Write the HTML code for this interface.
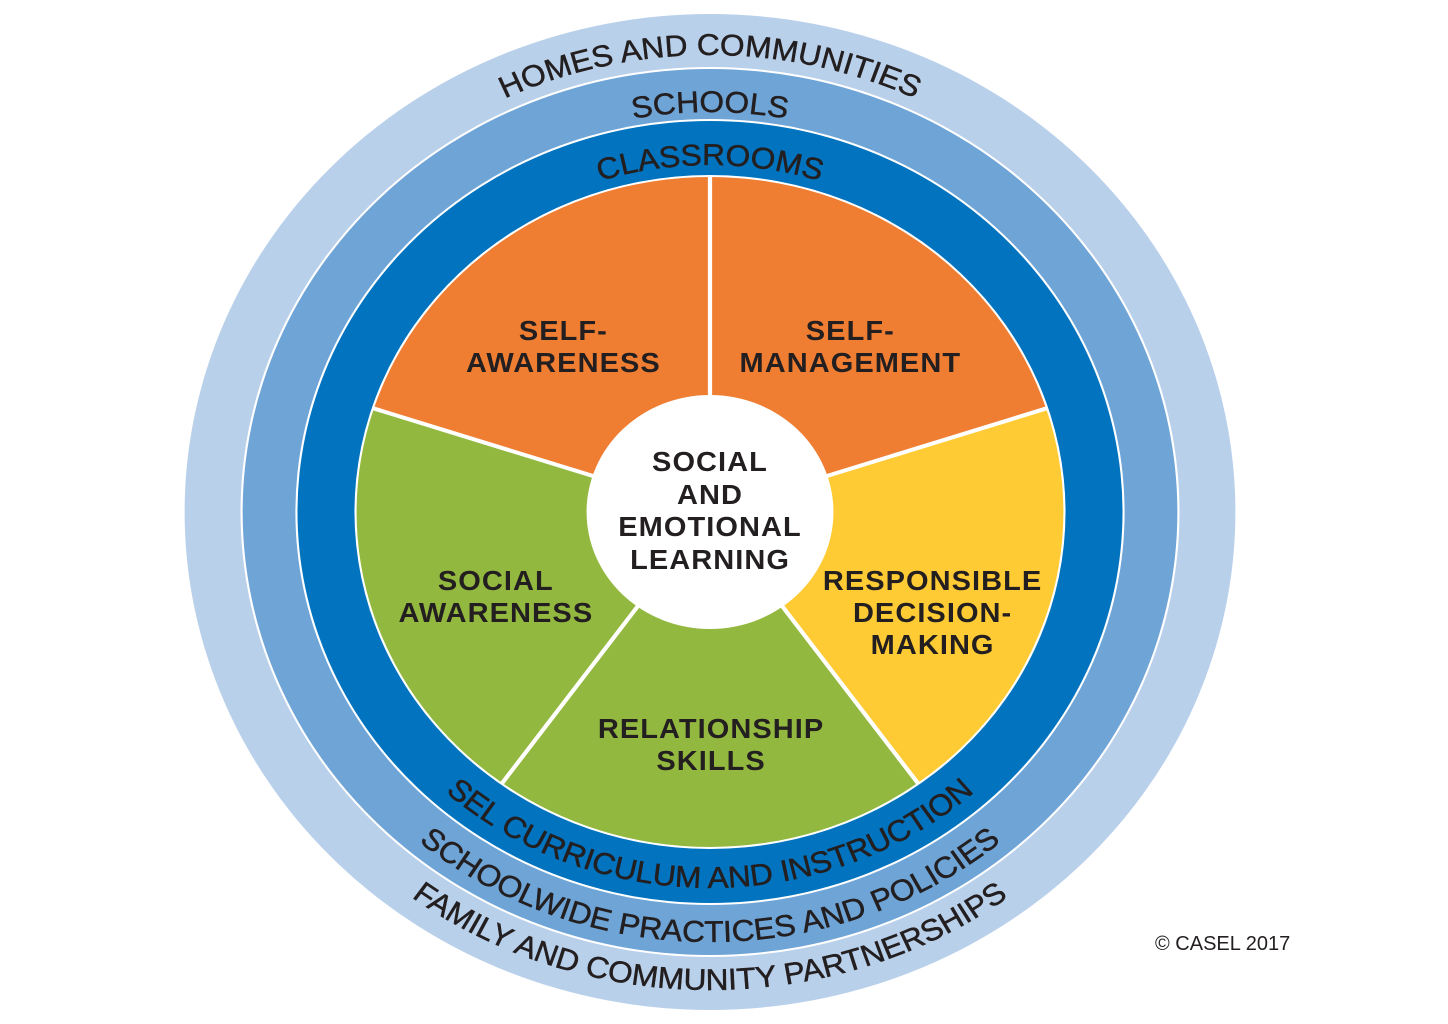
<!DOCTYPE html>
<html><head><meta charset="utf-8"><style>
html,body{margin:0;padding:0;background:#fff;width:1448px;height:1024px;overflow:hidden}
svg{display:block}
.r{font-family:"Liberation Sans",sans-serif;font-size:30px;fill:#231f20;stroke:#231f20;stroke-width:0.5px;letter-spacing:0px}
.b{font-family:"Liberation Sans",sans-serif;font-weight:bold;font-size:27.5px;fill:#231f20;letter-spacing:1px;text-anchor:middle}
</style></head><body>
<svg width="1448" height="1024" viewBox="0 0 1448 1024" xmlns="http://www.w3.org/2000/svg">
<defs>
<path id="t1" d="M -457 0 A 457 457 0 0 1 457 0"/>
<path id="t2" d="M -400 0 A 400 400 0 0 1 400 0"/>
<path id="t3" d="M -347 0 A 347 347 0 0 1 347 0"/>
<path id="b1" d="M -478 0 A 478 478 0 0 0 478 0"/>
<path id="b2" d="M -430 0 A 430 430 0 0 0 430 0"/>
<path id="b3" d="M -376 0 A 376 376 0 0 0 376 0"/>
</defs>
<g transform="translate(710,512) scale(1.055,1)">
<circle r="498" fill="#b9d0eb"/>
<circle r="445" fill="#fff"/>
<circle r="443" fill="#6fa4d7"/>
<circle r="393" fill="#fff"/>
<circle r="391" fill="#0273be"/>
<circle r="337" fill="#fff"/>
<path d="M0 0 L0 -335 A335 335 0 0 1 318.6 -103.5 Z" fill="#ef7e33"/>
<path d="M0 0 L318.6 -103.5 A335 335 0 0 1 196.9 271 Z" fill="#fecb34"/>
<path d="M0 0 L196.9 271 A335 335 0 0 1 -196.9 271 Z" fill="#93b83f"/>
<path d="M0 0 L-196.9 271 A335 335 0 0 1 -318.6 -103.5 Z" fill="#93b83f"/>
<path d="M0 0 L-318.6 -103.5 A335 335 0 0 1 0 -335 Z" fill="#ef7e33"/>
<g stroke="#fff" stroke-width="4">
<line x1="0" y1="0" x2="0" y2="-336"/>
<line x1="0" y1="0" x2="319.5" y2="-103.8"/>
<line x1="0" y1="0" x2="197.5" y2="271.8"/>
<line x1="0" y1="0" x2="-197.5" y2="271.8"/>
<line x1="0" y1="0" x2="-319.5" y2="-103.8"/>
</g>
<circle r="117" fill="#fff"/>
<text class="r"><textPath href="#t1" startOffset="50%" text-anchor="middle">HOMES AND COMMUNITIES</textPath></text>
<text class="r"><textPath href="#t2" startOffset="50%" text-anchor="middle">SCHOOLS</textPath></text>
<text class="r"><textPath href="#t3" startOffset="50%" text-anchor="middle">CLASSROOMS</textPath></text>
<text class="r"><textPath href="#b1" startOffset="50%" text-anchor="middle">FAMILY AND COMMUNITY PARTNERSHIPS</textPath></text>
<text class="r"><textPath href="#b2" startOffset="50%" text-anchor="middle">SCHOOLWIDE PRACTICES AND POLICIES</textPath></text>
<text class="r"><textPath href="#b3" startOffset="50%" text-anchor="middle">SEL CURRICULUM AND INSTRUCTION</textPath></text>
</g>
<g transform="translate(710,0) scale(1.055,1)">
<text class="b" x="-139" y="340">SELF-</text>
<text class="b" x="-139" y="372">AWARENESS</text>
<text class="b" x="133" y="340">SELF-</text>
<text class="b" x="133" y="372">MANAGEMENT</text>
<text class="b" x="0" y="471">SOCIAL</text>
<text class="b" x="0" y="504">AND</text>
<text class="b" x="0" y="536">EMOTIONAL</text>
<text class="b" x="0" y="569">LEARNING</text>
<text class="b" x="-203" y="590">SOCIAL</text>
<text class="b" x="-203" y="622">AWARENESS</text>
<text class="b" x="211" y="590">RESPONSIBLE</text>
<text class="b" x="211" y="622">DECISION-</text>
<text class="b" x="211" y="654">MAKING</text>
<text class="b" x="1" y="738">RELATIONSHIP</text>
<text class="b" x="1" y="770">SKILLS</text>
</g>
<text x="1155" y="950" font-family="Liberation Sans, sans-serif" font-size="20" fill="#231f20">© CASEL 2017</text>
</svg>
</body></html>
